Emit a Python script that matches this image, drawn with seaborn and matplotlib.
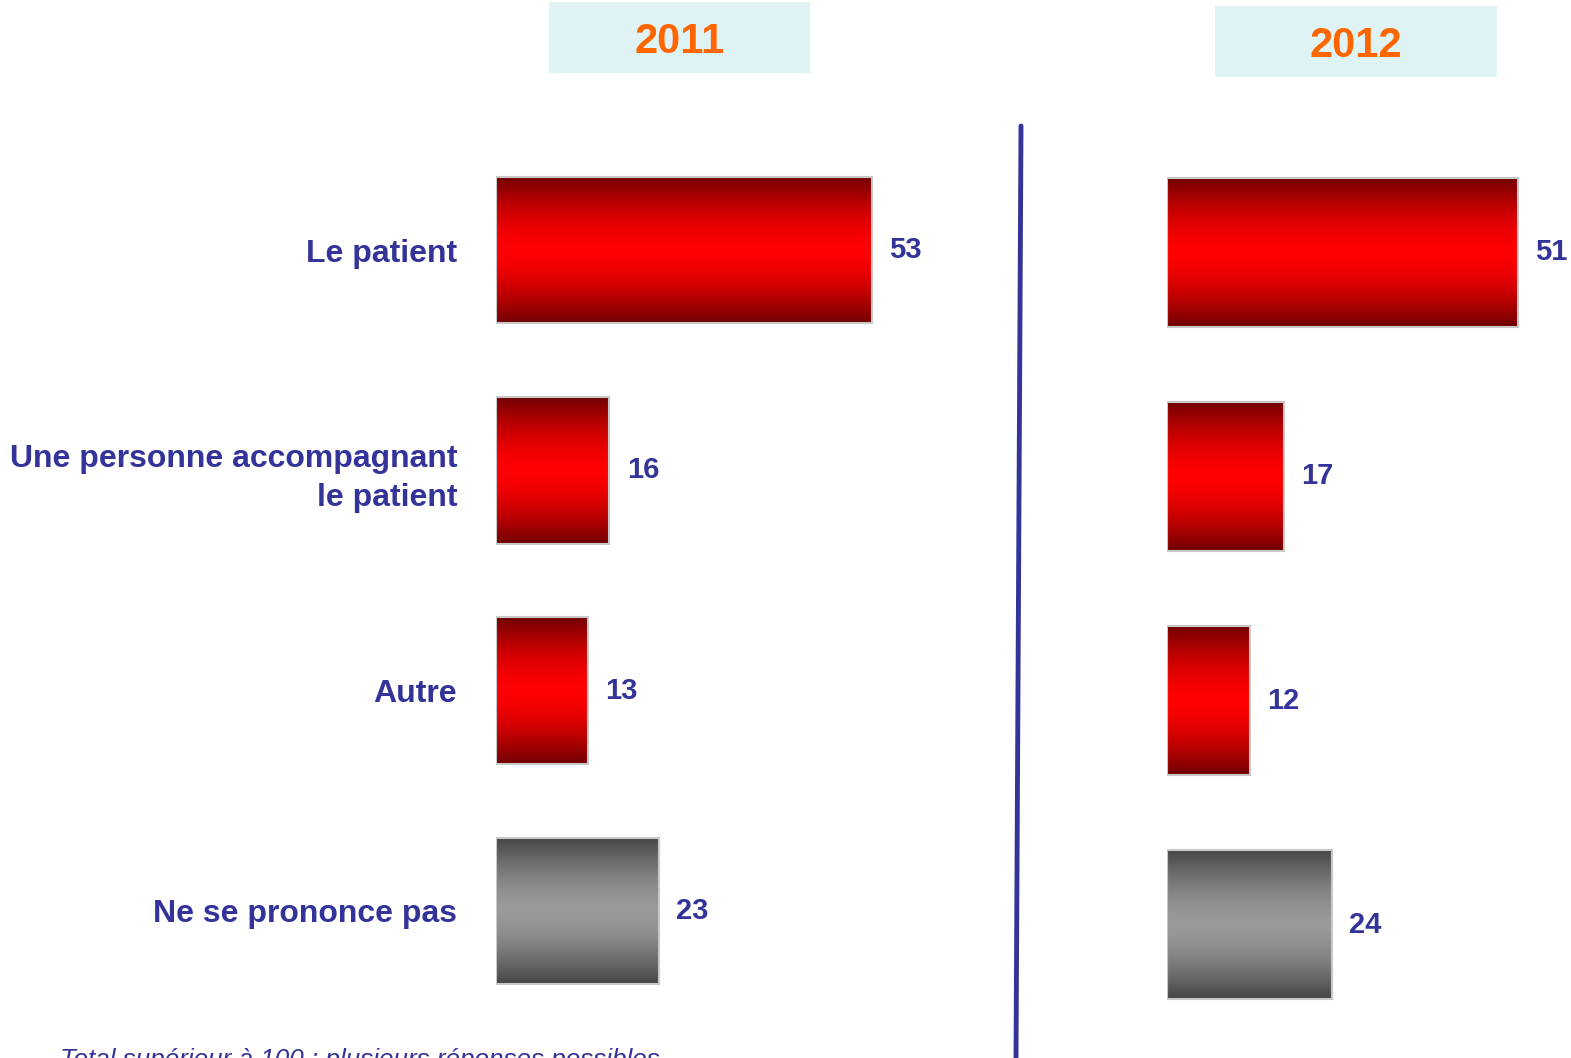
import matplotlib.colors as mcolors
import matplotlib.pyplot as plt
import numpy as np
import pandas as pd
import seaborn as sns
from matplotlib.lines import Line2D
from matplotlib.patches import Rectangle

categories = ["Le patient", "Une personne accompagnant\nle patient", "Autre", "Ne se prononce pas"]
values_2011 = [53, 16, 13, 23]
values_2012 = [51, 17, 12, 24]
years = ["2011", "2012"]
footnote = "Total supérieur à 100 : plusieurs réponses possibles"

W, H = 1571, 1058
navy = "#333399"
orange = "#ff6600"
header_bg = "#dff3f5"

sns.set_style("white")
plt.rcParams["font.family"] = ["Liberation Sans", "DejaVu Sans"]


def gradient(dark, bright, n=256):
    # vertical shading: dark at the edges, bright in the middle
    t = np.linspace(-1, 1, n)
    w = 1 - np.abs(t) ** 1.6
    dark = np.array(mcolors.to_rgb(dark))
    bright = np.array(mcolors.to_rgb(bright))
    img = dark + (bright - dark) * w[:, None]
    return img[:, None, :]


red_grad = gradient("#700000", "#ff0000")
grey_grad = gradient("#444444", "#9a9a9a")
palette = {c: ("#ff0000" if i < 3 else "#909090") for i, c in enumerate(categories)}


def draw_panel(ax, values, xmax, show_labels):
    df = pd.DataFrame({"categorie": categories, "valeur": values})
    sns.barplot(data=df, x="valeur", y="categorie", hue="categorie", palette=palette,
                legend=False, orient="h", width=0.665, saturation=1, ax=ax)

    for i, (patch, val) in enumerate(zip(ax.patches, values)):
        x0, y0 = patch.get_x(), patch.get_y()
        w, h = patch.get_width(), patch.get_height()
        grad = red_grad if i < 3 else grey_grad
        ax.imshow(grad, extent=[x0, x0 + w, y0 + h, y0], aspect="auto",
                  interpolation="bilinear", zorder=2)
        patch.set_facecolor("none")
        patch.set_edgecolor("#c8c8c8")
        patch.set_linewidth(1.5)
        patch.set_zorder(3)
        ax.annotate(f"{val}", xy=(x0 + w, y0 + h / 2), xytext=(12.5, 0),
                    textcoords="offset points", ha="left", va="center",
                    fontsize=21, fontweight="bold", color=navy, annotation_clip=False)

    ax.set_xlim(0, xmax)
    ax.set_ylim(3.5, -0.5)
    ax.set_xticks([])
    ax.set_xlabel("")
    ax.set_ylabel("")
    if show_labels:
        ax.tick_params(axis="y", length=0, pad=28)
        for lbl in ax.get_yticklabels():
            lbl.set_fontsize(23)
            lbl.set_fontweight("bold")
            lbl.set_color(navy)
            lbl.set_horizontalalignment("right")
            lbl.set_linespacing(1.4)
    else:
        ax.set_yticks([])
    for s in ax.spines.values():
        s.set_visible(False)
    ax.set_facecolor("none")


fig = plt.figure(figsize=(W / 100, H / 100), dpi=100)

# left panel: value 0 at x=496px, 7.09 px per unit, rows 140..1021px
ax1 = fig.add_axes([496 / W, 1 - 1021 / H, 504 / W, (1021 - 140) / H])
draw_panel(ax1, values_2011, 504 / 7.09, True)

# right panel: value 0 at x=1167px, 6.88 px per unit, rows 140..1037px
ax2 = fig.add_axes([1167 / W, 1 - 1037 / H, 404 / W, (1037 - 140) / H])
draw_panel(ax2, values_2012, 404 / 6.88, False)

# year headers
for year, (bx0, by0, bx1, by1) in zip(years, [(549, 2, 810, 73), (1215, 6, 1497, 77)]):
    fig.patches.append(Rectangle((bx0 / W, 1 - by1 / H), (bx1 - bx0) / W, (by1 - by0) / H,
                                 transform=fig.transFigure, facecolor=header_bg,
                                 edgecolor="none", zorder=0))
    fig.text((bx0 + bx1) / 2 / W, 1 - (by1 - 20) / H, year, ha="center", va="baseline",
             fontsize=30, fontweight="bold", color=orange)

# separator line
fig.lines.append(Line2D([1021 / W, 1016 / W], [1 - 126 / H, 0], transform=fig.transFigure,
                        color=navy, linewidth=3.5))

fig.text(60 / W, (H - 1067) / H, footnote, ha="left", va="baseline", fontsize=18.7,
         style="italic", color=navy)

fig.savefig("out.png", dpi=100)
plt.close(fig)
